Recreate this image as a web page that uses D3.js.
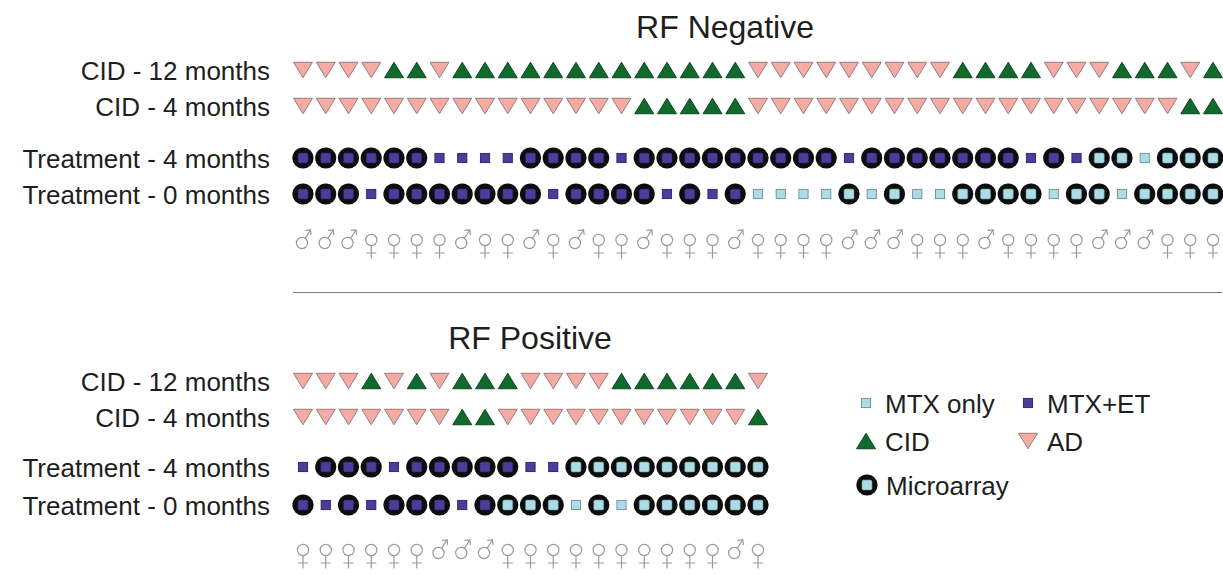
<!DOCTYPE html>
<html>
<head>
<meta charset="utf-8">
<script src="https://cdn.jsdelivr.net/npm/d3@7"></script>
<style>
  body { margin: 0; background: #fff; }
  svg { display: block; }
</style>
</head>
<body>
<svg id="chart" width="1223" height="575"></svg>
<script>
// Outcome per patient: "C" = CID, "A" = AD
// Treatment per patient: "m" = MTX only, "e" = MTX+ET,
//   upper case = same treatment, sample also run on microarray
// Sex per patient: "M" / "F"

const rowLabels = ["CID - 12 months", "CID - 4 months", "Treatment - 4 months", "Treatment - 0 months"];

// RF negative cohort (41 patients)
const negCID12 = ["A","A","A","A","C","C","A","C","C","C","C","C","C","C","C","C","C","C","C","C",
                  "A","A","A","A","A","A","A","A","A","C","C","C","C","A","A","A","C","C","C","A","C"];
const negCID4  = ["A","A","A","A","A","A","A","A","A","A","A","A","A","A","A","C","C","C","C","C",
                  "A","A","A","A","A","A","A","A","A","A","A","A","A","A","A","A","A","A","A","C","C"];
const negTreat4 = ["E","E","E","E","E","E","e","e","e","e","E","E","E","E","e","E","E","E","E","E",
                   "E","E","E","E","e","E","E","E","E","E","E","E","e","E","e","M","M","m","M","M","M"];
const negTreat0 = ["E","E","E","e","E","E","E","E","E","E","E","e","E","E","E","E","e","E","e","E",
                   "m","m","m","m","M","m","M","m","m","M","M","M","M","m","M","M","m","M","M","M","M"];
const negSex = ["M","M","M","F","F","F","F","M","F","F","M","F","M","F","F","M","F","F","F","M",
                "F","F","F","F","M","M","M","F","F","F","M","F","F","F","F","M","M","M","F","F","F"];

// RF positive cohort (21 patients)
const posCID12 = ["A","A","A","C","A","C","A","C","C","C","A","A","A","A","C","C","C","C","C","C","A"];
const posCID4  = ["A","A","A","A","A","A","A","C","C","A","A","A","A","A","A","A","A","A","A","A","C"];
const posTreat4 = ["e","E","E","E","e","E","E","E","E","E","e","e","M","M","M","M","M","M","M","M","M"];
const posTreat0 = ["E","e","E","e","E","E","E","e","E","M","M","M","m","M","m","M","M","M","M","M","M"];
const posSex = ["F","F","F","F","F","F","M","M","M","F","F","F","F","F","F","F","F","F","F","M","F"];

const legendItems = [
  { label: "MTX only", kind: "treat", code: "m" },
  { label: "MTX+ET", kind: "treat", code: "e" },
  { label: "CID", kind: "outcome", code: "C" },
  { label: "AD", kind: "outcome", code: "A" },
  { label: "Microarray", kind: "treat", code: "M" }
];

const colors = {
  cid: "#0e6b2c", cidStroke: "#0a3d1b",
  ad: "#f5aaa4", adStroke: "#8a7472",
  mtx: "#acdde7", mtxStroke: "#6a8f97",
  et: "#4a3d9c", etStroke: "#2a2266",
  ring: "#0b0b0b",
  sex: "#9a9a9a",
  text: "#1e1e1e"
};

const svg = d3.select("#chart");
const FONT = "'Liberation Sans', Arial, Helvetica, sans-serif";
const colStep = 22.75;
const x0 = 303;

function colScale(n) {
  return d3.scalePoint().domain(d3.range(n)).range([x0, x0 + (n - 1) * colStep]);
}

function triPath(up, w, h) {
  const p = d3.path();
  if (up) { p.moveTo(-w / 2, h / 2); p.lineTo(w / 2, h / 2); p.lineTo(0, -h / 2); }
  else    { p.moveTo(-w / 2, -h / 2); p.lineTo(w / 2, -h / 2); p.lineTo(0, h / 2); }
  p.closePath();
  return p.toString();
}

function drawOutcome(sel) {
  sel.append("path")
    .attr("d", d => triPath(d === "C", 19, 15.5))
    .attr("fill", d => d === "C" ? colors.cid : colors.ad)
    .attr("stroke", d => d === "C" ? colors.cidStroke : colors.adStroke)
    .attr("stroke-width", 0.9)
    .attr("stroke-linejoin", "round");
}

function drawTreatment(sel) {
  sel.each(function (d) {
    const g = d3.select(this);
    const micro = d === d.toUpperCase();
    const et = d.toLowerCase() === "e";
    const fill = et ? colors.et : colors.mtx;
    const stroke = et ? colors.etStroke : colors.mtxStroke;
    if (micro) {
      g.append("circle").attr("r", 10.6).attr("fill", colors.ring)
        .attr("filter", "url(#soft)");
      g.append("rect").attr("x", -5).attr("y", -5).attr("width", 10).attr("height", 10)
        .attr("rx", 1.6).attr("fill", fill).attr("stroke", stroke).attr("stroke-width", 0.6);
    } else {
      g.append("rect").attr("x", -4.6).attr("y", -4.6).attr("width", 9.2).attr("height", 9.2)
        .attr("fill", fill).attr("stroke", stroke).attr("stroke-width", 0.9);
    }
  });
}

function drawSex(sel) {
  sel.each(function (d) {
    const g = d3.select(this)
      .attr("fill", "none").attr("stroke", colors.sex).attr("stroke-width", 1.2)
      .attr("stroke-linecap", "round");
    if (d === "F") {
      g.append("circle").attr("cx", 0).attr("cy", -3).attr("r", 5.6);
      g.append("line").attr("x1", 0).attr("y1", 2.6).attr("x2", 0).attr("y2", 15);
      g.append("line").attr("x1", -4.6).attr("y1", 10).attr("x2", 4.6).attr("y2", 10);
    } else {
      const cx = -1, cy = 0, r = 5.6;
      g.append("circle").attr("cx", cx).attr("cy", cy).attr("r", r);
      const a = Math.atan2(-13, 8.5);
      const sx = cx + r * Math.cos(a), sy = cy + r * Math.sin(a);
      const tx = 7.5, ty = -13;
      g.append("line").attr("x1", sx).attr("y1", sy).attr("x2", tx).attr("y2", ty);
      g.append("path").attr("d", `M${tx - 4.8},${ty + 0.3} L${tx},${ty} L${tx + 0.6},${ty + 4.6}`);
    }
  });
}

// soft edge for the dark microarray rings
const defs = svg.append("defs");
defs.append("filter").attr("id", "soft").attr("x", "-30%").attr("y", "-30%")
  .attr("width", "160%").attr("height", "160%")
  .append("feGaussianBlur").attr("stdDeviation", 0.6);

function drawRow(data, x, y, drawer) {
  const g = svg.append("g");
  g.selectAll("g").data(data).join("g")
    .attr("transform", (d, i) => `translate(${x(i)},${y})`)
    .call(drawer);
}

function drawPanel(p) {
  const x = colScale(p.cid12.length);
  svg.append("text")
    .attr("x", p.titleX).attr("y", p.titleY)
    .attr("text-anchor", "middle")
    .attr("font-family", FONT).attr("font-size", 32).attr("fill", colors.text)
    .text(p.title);

  rowLabels.forEach((lab, i) => {
    svg.append("text")
      .attr("x", 270).attr("y", p.rows[i] + 9.5)
      .attr("text-anchor", "end")
      .attr("font-family", FONT).attr("font-size", 26).attr("fill", colors.text)
      .text(lab);
  });

  drawRow(p.cid12, x, p.rows[0], drawOutcome);
  drawRow(p.cid4, x, p.rows[1], drawOutcome);
  drawRow(p.treat4, x, p.rows[2], drawTreatment);
  drawRow(p.treat0, x, p.rows[3], drawTreatment);
  drawRow(p.sex, x, p.sexY, drawSex);
}

drawPanel({
  title: "RF Negative", titleX: 725, titleY: 38,
  rows: [70, 106, 158, 194], sexY: 243,
  cid12: negCID12, cid4: negCID4, treat4: negTreat4, treat0: negTreat0, sex: negSex
});

// divider between the two cohorts
svg.append("line")
  .attr("x1", 293).attr("x2", 1222).attr("y1", 292.5).attr("y2", 292.5)
  .attr("stroke", "#7a7a7a").attr("stroke-width", 1.2);

drawPanel({
  title: "RF Positive", titleX: 530, titleY: 349,
  rows: [381, 417, 467, 505], sexY: 553,
  cid12: posCID12, cid4: posCID4, treat4: posTreat4, treat0: posTreat0, sex: posSex
});

// legend
const legendPos = [
  { x: 866, y: 403 }, { x: 1028, y: 403 },
  { x: 866, y: 441 }, { x: 1028, y: 441 },
  { x: 867, y: 485 }
];
const lg = svg.append("g");
legendItems.forEach((item, i) => {
  const pos = legendPos[i];
  const g = lg.append("g").attr("transform", `translate(${pos.x},${pos.y})`);
  const mark = g.append("g").datum(item.code);
  if (item.kind === "outcome") {
    mark.call(drawOutcome);
  } else {
    mark.call(drawTreatment);
  }
  g.append("text")
    .attr("x", 19).attr("y", 9.5)
    .attr("font-family", FONT).attr("font-size", 26).attr("fill", colors.text)
    .text(item.label);
});
</script>
</body>
</html>
